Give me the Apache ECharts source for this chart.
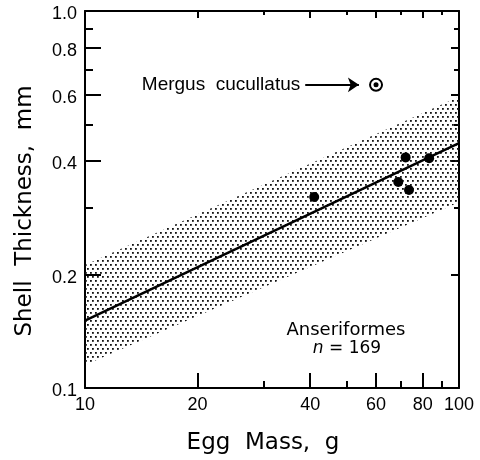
<!DOCTYPE html>
<html>
<head>
<meta charset="utf-8">
<script src="https://cdn.jsdelivr.net/npm/echarts@6/dist/echarts.min.js"></script>
<style>html,body{margin:0;padding:0;background:#fff;}#c{width:480px;height:460px;}</style>
</head>
<body>
<div id="c"></div>
<script>
// ---- data ----
const eggMass = [41.0, 72.0, 83.2, 68.8, 73.5];
const shellThickness = [0.321, 0.409, 0.407, 0.352, 0.335];
const mergusMass = [60.0];
const mergusThickness = [0.637];
const regX = [10, 100];
const regY = [0.151, 0.446];
const bandX = [10, 100];
const bandUpper = [0.212, 0.592];
const bandLower = [0.115, 0.311];
const arrowX = [38.8, 54.0];
const xMajor = [10, 20, 40, 60, 80, 100];
const xMinor = [30, 50, 70, 90];
const yMajor = [0.1, 0.2, 0.4, 0.6, 0.8, 1.0];
const yMinor = [0.3, 0.5, 0.7, 0.9];
const yLabels = ['0.1', '0.2', '0.4', '0.6', '0.8', '1.0'];

const FONT = 'DejaVu Sans';
const TICKFONT = 'Liberation Sans';
const chart = echarts.init(document.getElementById('c'), null, {renderer: 'canvas'});

// dot pattern for band
const pc = document.createElement('canvas');
pc.width = 10; pc.height = 8;
const pctx = pc.getContext('2d');
pctx.fillStyle = '#111';
[[0,0],[5,0],[2,4],[7,4]].forEach(p => pctx.fillRect(p[0], p[1], 1.8, 1.8));

function xAxisDef(pos, ticks, len, major, withLabel) {
  return {
    type: 'log', logBase: 10, min: 10, max: 100, position: pos, gridIndex: 0,
    axisLine: {show: major, onZero: false, lineStyle: {color: '#000', width: 2}},
    axisTick: {show: true, inside: true, length: len, customValues: ticks, lineStyle: {color: '#000', width: 2}},
    axisLabel: {show: withLabel, customValues: ticks, fontFamily: TICKFONT, fontSize: 18, color: '#000', margin: 8},
    splitLine: {show: false}, minorTick: {show: false}
  };
}
function yAxisDef(pos, ticks, len, major, withLabel) {
  return {
    type: 'log', logBase: 10, min: 0.1, max: 1.0, position: pos, gridIndex: 0,
    axisLine: {show: major, onZero: false, lineStyle: {color: '#000', width: 2}},
    axisTick: {show: true, inside: true, length: len, customValues: ticks, lineStyle: {color: '#000', width: 2}},
    axisLabel: {show: withLabel, customValues: ticks, fontFamily: TICKFONT, fontSize: 18, color: '#000', margin: 8,
      rich: {v: {fontFamily: TICKFONT, fontSize: 18, color: '#000', padding: [7, 0, 0, 0]}},
      formatter: v => { const i = yMajor.findIndex(t => Math.abs(t - v) < 1e-6); return i >= 0 ? '{v|' + yLabels[i] + '}' : ''; }},
    splitLine: {show: false}, minorTick: {show: false}
  };
}

const option = {
  animation: false,
  backgroundColor: '#fff',
  textStyle: {fontFamily: FONT, fontSize: 16, color: '#000'},
  grid: {left: 85, top: 11, width: 374, height: 377, containLabel: false},
  xAxis: [
    xAxisDef('bottom', xMajor, 15, true, true),
    xAxisDef('bottom', xMinor, 7, false, false),
    xAxisDef('top', xMajor, 7, true, false),
    xAxisDef('top', xMinor, 4, false, false)
  ],
  yAxis: [
    yAxisDef('left', yMajor, 16, true, true),
    yAxisDef('left', yMinor, 8, false, false),
    yAxisDef('right', yMajor, 8, true, false),
    yAxisDef('right', yMinor, 5, false, false)
  ],
  series: [
    {
      type: 'custom', xAxisIndex: 0, yAxisIndex: 0, z: 1, clip: true,
      data: [[bandX[0], bandLower[0]]],
      renderItem: function (params, api) {
        const pts = [
          api.coord([bandX[0], bandLower[0]]),
          api.coord([bandX[0], bandUpper[0]]),
          api.coord([bandX[1], bandUpper[1]]),
          api.coord([bandX[1], bandLower[1]])
        ];
        return {type: 'polygon', shape: {points: pts},
          style: {fill: {type: 'pattern', image: pc, repeat: 'repeat'}, stroke: null}};
      }
    },
    {
      type: 'line', xAxisIndex: 0, yAxisIndex: 0, z: 3,
      data: regX.map((x, i) => [x, regY[i]]),
      symbol: 'none', lineStyle: {color: '#000', width: 2.5}
    },
    {
      type: 'scatter', xAxisIndex: 0, yAxisIndex: 0, z: 4,
      data: eggMass.map((x, i) => [x, shellThickness[i]]),
      symbol: 'circle', symbolSize: 10, itemStyle: {color: '#000', opacity: 1}
    },
    {
      type: 'scatter', xAxisIndex: 0, yAxisIndex: 0, z: 4,
      data: mergusMass.map((x, i) => [x, mergusThickness[i]]),
      symbol: 'circle', symbolSize: 12, itemStyle: {color: '#fff', borderColor: '#000', borderWidth: 2, opacity: 1},
      markLine: {
        silent: true, animation: false,
        symbol: ['none', 'arrow'], symbolSize: 11,
        lineStyle: {color: '#000', width: 2, type: 'solid', opacity: 1},
        label: {show: true, position: 'start', distance: 5, formatter: 'Mergus  cucullatus',
          fontFamily: TICKFONT, fontSize: 19, color: '#000'},
        data: [[{coord: [arrowX[0], mergusThickness[0]], symbol: 'none'}, {coord: [arrowX[1], mergusThickness[0]], symbol: 'arrow'}]]
      }
    },
    {
      type: 'scatter', xAxisIndex: 0, yAxisIndex: 0, z: 5,
      data: mergusMass.map((x, i) => [x, mergusThickness[i]]),
      symbol: 'circle', symbolSize: 5, itemStyle: {color: '#000', opacity: 1}
    }
  ],
  graphic: [
    {type: 'text', x: 263, y: 443, z: 10,
      style: {text: 'Egg  Mass,  g', font: '23px "DejaVu Sans"', fill: '#000', align: 'center', verticalAlign: 'middle'}},
    {type: 'text', x: 25, y: 211, z: 10, rotation: Math.PI / 2,
      style: {text: 'Shell  Thickness,  mm', font: '23px "DejaVu Sans"', fill: '#000', align: 'center', verticalAlign: 'middle'}},
    {type: 'text', x: 346, y: 330, z: 10,
      style: {text: 'Anseriformes', font: '18px "DejaVu Sans"', fill: '#000', align: 'center', verticalAlign: 'middle'}},
    {type: 'text', x: 347, y: 349, z: 10,
      style: {text: '{i|n}{r| = 169}', align: 'center', verticalAlign: 'middle',
        rich: {i: {font: 'italic 17px "DejaVu Sans"', fill: '#000'}, r: {font: '17px "DejaVu Sans"', fill: '#000'}}}}
  ]
};
chart.setOption(option);
</script>
</body>
</html>
